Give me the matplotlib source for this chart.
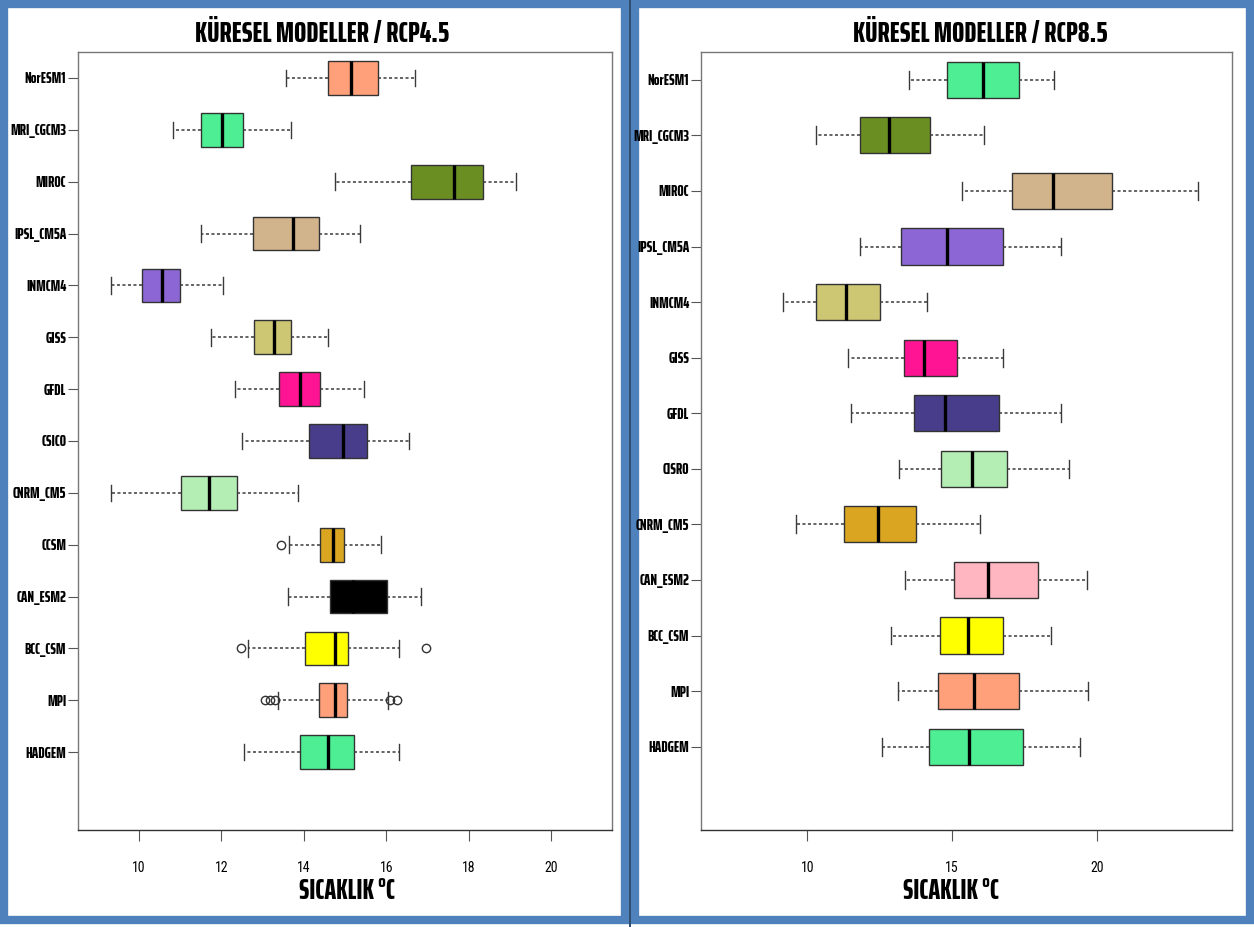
import matplotlib
matplotlib.use("Agg")
import matplotlib.pyplot as plt
from matplotlib.patches import Rectangle

W, H = 1254, 927

BOLD_FONT = ["Saira ExtraCondensed", "Fira Sans Extra Condensed", "DejaVu Sans"]
TICK_FONT = ["Roboto Condensed", "DejaVu Sans"]

# ---- RCP4.5 ----
models_45 = ["NorESM1", "MRI_CGCM3", "MIROC", "IPSL_CM5A", "INMCM4", "GISS", "GFDL",
             "CSICO", "CNRM_CM5", "CCSM", "CAN_ESM2", "BCC_CSM", "MPI", "HADGEM"]
whislo_45 = [13.56, 10.83, 14.76, 11.51, 9.32, 11.75, 12.32, 12.50, 9.31, 13.63, 13.62, 12.64, 13.38, 12.56]
q1_45 = [14.58, 11.51, 16.60, 12.76, 10.07, 12.78, 13.40, 14.13, 11.02, 14.39, 14.63, 14.04, 14.37, 13.91]
med_45 = [15.14, 12.02, 17.65, 13.75, 10.56, 13.28, 13.90, 14.96, 11.70, 14.70, 15.20, 14.76, 14.75, 14.59]
q3_45 = [15.80, 12.52, 18.34, 14.36, 11.00, 13.69, 14.40, 15.54, 12.38, 14.98, 16.03, 15.07, 15.04, 15.23]
whishi_45 = [16.69, 13.68, 19.15, 15.36, 12.04, 14.59, 15.47, 16.55, 13.87, 15.87, 16.84, 16.31, 16.05, 16.31]
fliers_45 = [[], [], [], [], [], [], [], [], [], [13.45], [], [12.47, 16.97],
             [13.05, 13.17, 13.29, 16.09, 16.27], []]
colors_45 = ["#FFA07A", "#4EEE94", "#6B8E23", "#D2B48C", "#8B66D4", "#CDC673", "#FF1493",
             "#483D8B", "#B4EEB4", "#DAA520", "#000000", "#FFFF00", "#FFA07A", "#4EEE94"]

# ---- RCP8.5 ----
models_85 = ["NorESM1", "MRI_CGCM3", "MIROC", "IPSL_CM5A", "INMCM4", "GISS", "GFDL",
             "CISRO", "CNRM_CM5", "CAN_ESM2", "BCC_CSM", "MPI", "HADGEM"]
whislo_85 = [13.52, 10.29, 15.33, 11.83, 9.17, 11.39, 11.51, 13.17, 9.59, 13.37, 12.90, 13.13, 12.58]
q1_85 = [14.82, 11.82, 17.08, 13.25, 10.31, 13.35, 13.67, 14.62, 11.26, 15.07, 14.58, 14.51, 14.22]
med_85 = [16.07, 12.81, 18.49, 14.82, 11.34, 14.04, 14.74, 15.69, 12.44, 16.25, 15.55, 15.76, 15.59]
q3_85 = [17.32, 14.23, 20.53, 16.77, 12.52, 15.17, 16.64, 16.90, 13.76, 17.96, 16.75, 17.31, 17.44]
whishi_85 = [18.52, 16.12, 23.51, 18.76, 14.13, 16.77, 18.76, 19.03, 15.97, 19.68, 18.42, 19.70, 19.42]
colors_85 = ["#4EEE94", "#6B8E23", "#D2B48C", "#8B66D4", "#CDC673", "#FF1493", "#483D8B",
             "#B4EEB4", "#DAA520", "#FFB6C1", "#FFFF00", "#FFA07A", "#4EEE94"]

ticks_45 = [10, 12, 14, 16, 18, 20]
ticks_85 = [10, 15, 20]


def frac(x0, y0, x1, y1):
    # pixel box (y from top) -> figure fraction [left, bottom, width, height]
    return [x0 / W, 1 - y1 / H, (x1 - x0) / W, (y1 - y0) / H]


def panel(ax, models, lo, q1, med, q3, hi, fliers, colors, xlim, ticks):
    n = len(models)
    pos = list(range(n + 1, 1, -1))
    stats = []
    for i in range(n):
        stats.append(dict(label=models[i], whislo=lo[i], q1=q1[i], med=med[i],
                          q3=q3[i], whishi=hi[i], fliers=fliers[i]))
    bp = ax.bxp(stats, positions=pos, widths=0.65, orientation="horizontal",
                patch_artist=True, capwidths=0.32,
                boxprops=dict(edgecolor="#333333", linewidth=1.0),
                medianprops=dict(color="black", linewidth=2.4),
                whiskerprops=dict(color="#3a3a3a", linewidth=1.1, linestyle=(0, (2, 1.6))),
                capprops=dict(color="#3a3a3a", linewidth=1.0),
                flierprops=dict(marker="o", markerfacecolor="none", markeredgecolor="#333333",
                                markersize=6, markeredgewidth=1.0))
    for patch, c in zip(bp["boxes"], colors):
        patch.set_facecolor(c)
    ax.set_ylim(0.5, n + 1.5)
    ax.set_xlim(xlim[0] - 0.04 * (xlim[1] - xlim[0]), xlim[1] + 0.04 * (xlim[1] - xlim[0]))
    ax.set_xticks(ticks)
    ax.set_xticklabels([str(t) for t in ticks], family=TICK_FONT, fontsize=10)
    ax.set_yticks(pos)
    ax.set_yticklabels(models, family=BOLD_FONT, fontweight="heavy", fontsize=11)
    ax.tick_params(axis="x", length=8, width=0.8, color="#555555", pad=14)
    ax.tick_params(axis="y", length=7, width=0.8, color="#555555", pad=1.5)
    for s in ax.spines.values():
        s.set_color("#777777")
        s.set_linewidth(1.0)
    ax.spines["bottom"].set_color("#333333")


fig = plt.figure(figsize=(W / 100, H / 100), dpi=100)
fig.patch.set_facecolor("white")

ax1 = fig.add_axes(frac(78, 52, 612, 830))
panel(ax1, models_45, whislo_45, q1_45, med_45, q3_45, whishi_45, fliers_45, colors_45,
      (9, 21), ticks_45)

ax2 = fig.add_axes(frac(701, 52, 1232, 830))
panel(ax2, models_85, whislo_85, q1_85, med_85, q3_85, whishi_85,
      [[] for _ in models_85], colors_85, (7, 24), ticks_85)

# titles and x labels
for xc, t in [(322, "KÜRESEL MODELLER / RCP4.5"), (980, "KÜRESEL MODELLER / RCP8.5")]:
    fig.text(xc / W, 1 - 34 / H, t, ha="center", va="center", family=BOLD_FONT,
             fontweight="heavy", fontsize=21)
for xc in [347, 951]:
    fig.text(xc / W, 1 - 891 / H, "SICAKLIK °C", ha="center", va="center",
             family=BOLD_FONT, fontweight="heavy", fontsize=20)

# blue frames round each panel, kept behind the labels
for x0, x1 in [(4, 625), (635, 1250)]:
    b = frac(x0, 4, x1, 920)
    fig.add_artist(Rectangle((b[0], b[1]), b[2], b[3], transform=fig.transFigure,
                             fill=False, edgecolor="#4F81BD", linewidth=6.0, zorder=-1))
fig.add_artist(Rectangle((628.5 / W, 0), 2.5 / W, 1, transform=fig.transFigure,
                         facecolor="#2f4f70", edgecolor="none", zorder=-1))

fig.savefig("out.png", dpi=100)
